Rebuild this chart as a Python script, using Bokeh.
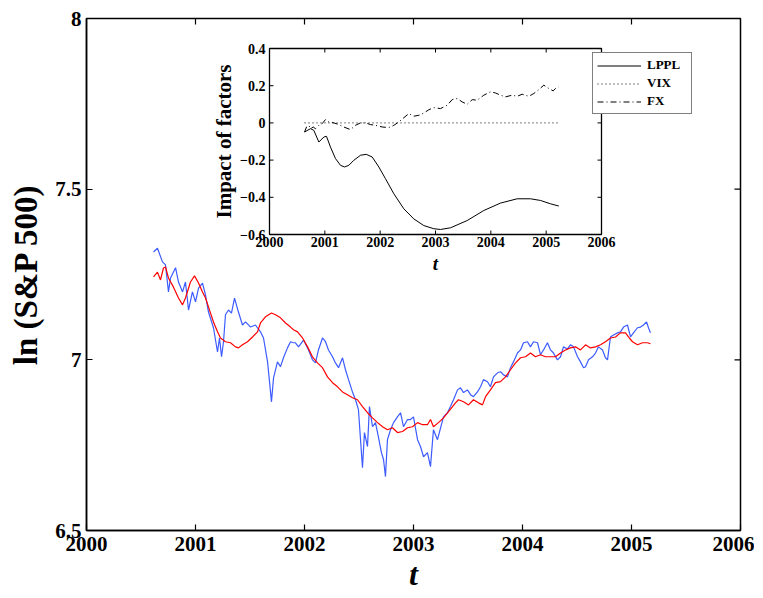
import math
from bokeh.plotting import figure
from bokeh.models import Range1d, FixedTicker, Legend, LegendItem
from bokeh.embed import file_html
from bokeh.resources import INLINE
from bokeh.core.properties import value

# ---------------- data ----------------
sp_year = [2000.615, 2000.651, 2000.697, 2000.725, 2000.752, 2000.771, 2000.817, 2000.844, 2000.881, 2000.908,
           2000.936, 2000.972, 2001.000, 2001.028, 2001.064, 2001.092, 2001.119, 2001.165, 2001.202, 2001.220,
           2001.239, 2001.257, 2001.275, 2001.303, 2001.330, 2001.358, 2001.394, 2001.431, 2001.459, 2001.505,
           2001.550, 2001.596, 2001.624, 2001.661, 2001.679, 2001.697, 2001.716, 2001.752, 2001.780, 2001.807,
           2001.844, 2001.872, 2001.899, 2001.917, 2001.945, 2001.991, 2002.037, 2002.073, 2002.101, 2002.128,
           2002.165, 2002.193, 2002.220, 2002.257, 2002.284, 2002.312, 2002.349, 2002.376, 2002.404, 2002.440,
           2002.468, 2002.495, 2002.514, 2002.532, 2002.550, 2002.578, 2002.596, 2002.624, 2002.651, 2002.670,
           2002.706, 2002.725, 2002.743, 2002.761, 2002.789, 2002.817, 2002.853, 2002.881, 2002.908, 2002.945,
           2002.972, 2003.000, 2003.037, 2003.064, 2003.092, 2003.128, 2003.156, 2003.183, 2003.220, 2003.248,
           2003.275, 2003.312, 2003.339, 2003.367, 2003.404, 2003.431, 2003.459, 2003.495, 2003.523, 2003.550,
           2003.587, 2003.615, 2003.642, 2003.679, 2003.706, 2003.734, 2003.771, 2003.798, 2003.826, 2003.862,
           2003.890, 2003.917, 2003.954, 2003.982, 2004.009, 2004.046, 2004.073, 2004.101, 2004.138, 2004.165,
           2004.193, 2004.229, 2004.257, 2004.284, 2004.321, 2004.349, 2004.376, 2004.413, 2004.440, 2004.468,
           2004.505, 2004.532, 2004.560, 2004.578, 2004.606, 2004.642, 2004.670, 2004.697, 2004.734, 2004.761,
           2004.780, 2004.807, 2004.835, 2004.872, 2004.899, 2004.927, 2004.963, 2004.991, 2005.018, 2005.055,
           2005.083, 2005.110, 2005.138, 2005.156, 2005.174]
sp_ln = [7.316, 7.327, 7.287, 7.278, 7.199, 7.240, 7.270, 7.228, 7.199, 7.228,
         7.146, 7.199, 7.170, 7.210, 7.225, 7.190, 7.140, 7.094, 7.023, 7.064,
         7.009, 7.053, 7.132, 7.146, 7.137, 7.181, 7.140, 7.102, 7.111, 7.096,
         7.102, 7.082, 7.064, 6.994, 6.936, 6.877, 6.947, 6.994, 6.980, 7.006,
         7.035, 7.053, 7.050, 7.050, 7.038, 7.058, 7.029, 7.000, 6.991, 7.029,
         7.064, 7.053, 7.029, 7.009, 6.991, 6.977, 7.006, 6.971, 6.942, 6.906,
         6.883, 6.854, 6.766, 6.684, 6.787, 6.746, 6.863, 6.804, 6.816, 6.787,
         6.728, 6.708, 6.658, 6.766, 6.795, 6.816, 6.833, 6.845, 6.804, 6.825,
         6.825, 6.833, 6.766, 6.746, 6.716, 6.728, 6.687, 6.795, 6.766, 6.800,
         6.833, 6.845, 6.863, 6.883, 6.912, 6.918, 6.904, 6.912, 6.898, 6.892,
         6.906, 6.921, 6.942, 6.936, 6.921, 6.950, 6.962, 6.965, 6.956, 6.950,
         6.977, 6.994, 7.020, 7.029, 7.050, 7.053, 7.038, 7.053, 7.050, 7.015,
         7.029, 7.050, 7.029, 7.020, 7.000, 7.009, 7.038, 7.032, 7.044, 7.038,
         7.009, 6.994, 6.977, 6.980, 7.000, 7.009, 7.020, 7.038, 7.029, 7.006,
         7.000, 7.067, 7.073, 7.079, 7.082, 7.096, 7.102, 7.067, 7.079, 7.094,
         7.096, 7.102, 7.111, 7.094, 7.079]

fit_year = [2000.615, 2000.651, 2000.679, 2000.706, 2000.725, 2000.752, 2000.798, 2000.844, 2000.881, 2000.908,
            2000.954, 2000.991, 2001.028, 2001.064, 2001.092, 2001.138, 2001.165, 2001.202, 2001.229, 2001.275,
            2001.321, 2001.367, 2001.394, 2001.431, 2001.477, 2001.523, 2001.569, 2001.596, 2001.642, 2001.697,
            2001.734, 2001.780, 2001.826, 2001.872, 2001.899, 2001.936, 2001.982, 2002.028, 2002.073, 2002.119,
            2002.165, 2002.211, 2002.257, 2002.303, 2002.349, 2002.394, 2002.440, 2002.486, 2002.532, 2002.578,
            2002.624, 2002.670, 2002.716, 2002.761, 2002.807, 2002.853, 2002.899, 2002.945, 2002.991, 2003.037,
            2003.083, 2003.128, 2003.156, 2003.183, 2003.229, 2003.275, 2003.321, 2003.358, 2003.385, 2003.413,
            2003.459, 2003.505, 2003.550, 2003.596, 2003.633, 2003.661, 2003.706, 2003.752, 2003.798, 2003.844,
            2003.890, 2003.936, 2003.982, 2004.028, 2004.073, 2004.119, 2004.165, 2004.211, 2004.257, 2004.303,
            2004.349, 2004.394, 2004.440, 2004.486, 2004.532, 2004.578, 2004.624, 2004.670, 2004.716, 2004.761,
            2004.807, 2004.853, 2004.899, 2004.945, 2004.972, 2005.009, 2005.055, 2005.101, 2005.147, 2005.174]
fit_ln = [7.243, 7.257, 7.234, 7.269, 7.272, 7.240, 7.213, 7.181, 7.161, 7.181,
          7.228, 7.246, 7.225, 7.199, 7.181, 7.137, 7.111, 7.082, 7.064, 7.053,
          7.050, 7.038, 7.035, 7.044, 7.053, 7.067, 7.082, 7.108, 7.126, 7.137,
          7.132, 7.123, 7.108, 7.096, 7.088, 7.082, 7.064, 7.038, 7.009, 6.991,
          6.977, 6.950, 6.933, 6.921, 6.906, 6.898, 6.889, 6.883, 6.863, 6.845,
          6.830, 6.816, 6.804, 6.795, 6.801, 6.787, 6.790, 6.801, 6.804, 6.816,
          6.810, 6.810, 6.825, 6.804, 6.816, 6.830, 6.848, 6.863, 6.874, 6.883,
          6.877, 6.868, 6.883, 6.874, 6.868, 6.892, 6.912, 6.933, 6.936, 6.950,
          6.971, 6.991, 7.006, 7.009, 7.020, 7.009, 7.015, 7.009, 7.009, 7.009,
          7.020, 7.029, 7.035, 7.038, 7.029, 7.044, 7.035, 7.038, 7.044, 7.053,
          7.064, 7.067, 7.079, 7.079, 7.067, 7.053, 7.044, 7.050, 7.050, 7.047]

lppl_year = [2000.633, 2000.741, 2000.801, 2000.892, 2000.982, 2001.030, 2001.102, 2001.193, 2001.283, 2001.355,
             2001.434, 2001.524, 2001.645, 2001.747, 2001.855, 2001.976, 2002.096, 2002.247, 2002.428, 2002.608,
             2002.789, 2002.970, 2003.090, 2003.271, 2003.572, 2003.873, 2004.175, 2004.476, 2004.717, 2004.898,
             2005.078, 2005.229]
lppl_val = [-0.049, -0.031, -0.040, -0.103, -0.076, -0.072, -0.130, -0.192, -0.228, -0.237,
            -0.228, -0.201, -0.174, -0.169, -0.183, -0.237, -0.300, -0.381, -0.462, -0.516,
            -0.552, -0.569, -0.573, -0.564, -0.525, -0.471, -0.431, -0.408, -0.408, -0.417,
            -0.435, -0.447]

vix_year = [2000.633, 2005.229]
vix_val = [0.0, 0.0]

fx_year = [2000.633, 2000.669, 2000.711, 2000.741, 2000.789, 2000.831, 2000.892, 2000.952, 2001.012, 2001.072,
           2001.163, 2001.253, 2001.343, 2001.464, 2001.554, 2001.645, 2001.735, 2001.825, 2001.916, 2002.036,
           2002.157, 2002.247, 2002.337, 2002.428, 2002.518, 2002.608, 2002.699, 2002.789, 2002.880, 2002.970,
           2003.090, 2003.211, 2003.301, 2003.392, 2003.482, 2003.572, 2003.663, 2003.753, 2003.873, 2003.994,
           2004.084, 2004.175, 2004.265, 2004.386, 2004.476, 2004.566, 2004.687, 2004.777, 2004.867, 2004.958,
           2005.048, 2005.127, 2005.169, 2005.229]
fx_val = [-0.049, -0.022, -0.013, -0.031, -0.022, -0.031, -0.013, -0.004, 0.018, 0.005,
          0.000, -0.009, -0.022, -0.036, -0.013, 0.000, 0.000, -0.009, -0.013, -0.022,
          -0.025, -0.013, 0.005, 0.028, 0.050, 0.036, 0.041, 0.053, 0.071, 0.082,
          0.077, 0.095, 0.125, 0.131, 0.113, 0.100, 0.125, 0.122, 0.149, 0.167,
          0.161, 0.149, 0.140, 0.149, 0.143, 0.154, 0.143, 0.158, 0.179, 0.203,
          0.185, 0.172, 0.185, 0.194]

main_xticks = [2000, 2001, 2002, 2003, 2004, 2005, 2006]
main_yticks = [6.5, 7, 7.5, 8]
main_ytick_labels = ["6.5", "7", "7.5", "8"]
inset_xticks = [2000, 2001, 2002, 2003, 2004, 2005, 2006]
inset_xtick_labels = ["2000", "2001", "2002", "2003", "2004", "2005", "2006"]
inset_yticks = [-0.6, -0.4, -0.2, 0.0, 0.2, 0.4]
inset_ytick_labels = ["\u22120.6", "\u22120.4", "\u22120.2", "0", "0.2", "0.4"]
legend_labels = ["LPPL", "VIX", "FX"]

# ---------------- layout ----------------
FONT = "Liberation Serif"
FW, FH = 654, 512
x0, x1 = main_xticks[0], main_xticks[-1]
y0, y1 = main_yticks[0], main_yticks[-1]
p = figure(frame_width=FW, frame_height=FH,
           x_range=Range1d(x0, x1), y_range=Range1d(y0, y1),
           output_backend="svg", toolbar_location=None,
           min_border_left=86, min_border_right=14, min_border_top=18, min_border_bottom=64,
           background_fill_color="white", border_fill_color="white")
p.grid.visible = False
p.outline_line_color = "black"
p.outline_line_width = 1.5

def style_axis(ax, ticks):
    ax.ticker = FixedTicker(ticks=ticks)
    ax.minor_tick_line_color = None
    ax.major_tick_in = 6
    ax.major_tick_out = 0
    ax.major_tick_line_width = 1.2
    ax.axis_line_width = 1.5
    ax.major_label_text_font = FONT
    ax.major_label_text_font_style = "bold"
    ax.major_label_text_color = "black"
    ax.major_label_text_font_size = "21px"
    ax.axis_label_text_color = "black"

xa = p.xaxis[0]
style_axis(xa, main_xticks)
xa.major_label_overrides = {t: str(t) for t in main_xticks}
xa.major_label_standoff = 6
xa.axis_label = "t"
xa.axis_label_text_font = FONT
xa.axis_label_text_font_style = "bold italic"
xa.axis_label_text_font_size = "32px"
xa.axis_label_standoff = 2

ya = p.yaxis[0]
style_axis(ya, main_yticks)
ya.major_label_overrides = dict(zip(main_yticks, main_ytick_labels))
ya.major_label_standoff = 5
ya.axis_label = "ln (S&P 500)"
ya.axis_label_text_font = FONT
ya.axis_label_text_font_style = "bold"
ya.axis_label_text_font_size = "33px"
ya.axis_label_standoff = 8

# inward ticks on the top and right edges of the box
MTL = 6
mpx = (x1 - x0) / FW
mpy = (y1 - y0) / FH
xt_mid = main_xticks[1:-1]
yt_mid = main_yticks[1:-1]
p.segment(x0=xt_mid, x1=xt_mid, y0=[y1] * len(xt_mid), y1=[y1 - MTL * mpy] * len(xt_mid),
          line_color="black", line_width=1.2)
p.segment(x0=[x1] * len(yt_mid), x1=[x1 - MTL * mpx] * len(yt_mid), y0=yt_mid, y1=yt_mid,
          line_color="black", line_width=1.2)

# main series
p.line(sp_year, sp_ln, line_color="#3d5cff", line_width=1.2)
p.line(fit_year, fit_ln, line_color="#ff0000", line_width=1.2)

# ---------------- inset via extra ranges ----------------
INSET_L, INSET_R = 183, 515   # px from frame left
INSET_B, INSET_T = 296, 482   # px from frame bottom
ix0, ix1 = inset_xticks[0], inset_xticks[-1]
iy0, iy1 = inset_yticks[0], inset_yticks[-1]
sx = (ix1 - ix0) / (INSET_R - INSET_L)
sy = (iy1 - iy0) / (INSET_T - INSET_B)
ixs = ix0 - INSET_L * sx
iys = iy0 - INSET_B * sy
p.extra_x_ranges = {"ix": Range1d(ixs, ixs + FW * sx)}
p.extra_y_ranges = {"iy": Range1d(iys, iys + FH * sy)}
R = dict(x_range_name="ix", y_range_name="iy")

p.quad(left=[ix0], right=[ix1], bottom=[iy0], top=[iy1], fill_color="white",
       line_color="black", line_width=1.3, **R)

TL = 4
xt_in = inset_xticks[1:-1]
yt_in = inset_yticks[1:-1]
p.segment(x0=xt_in, x1=xt_in, y0=[iy0] * len(xt_in), y1=[iy0 + TL * sy] * len(xt_in), line_color="black", **R)
p.segment(x0=xt_in, x1=xt_in, y0=[iy1] * len(xt_in), y1=[iy1 - TL * sy] * len(xt_in), line_color="black", **R)
p.segment(x0=[ix0] * len(yt_in), x1=[ix0 + TL * sx] * len(yt_in), y0=yt_in, y1=yt_in, line_color="black", **R)
p.segment(x0=[ix1] * len(yt_in), x1=[ix1 - TL * sx] * len(yt_in), y0=yt_in, y1=yt_in, line_color="black", **R)

p.text(x=inset_xticks, y=[iy0 - 2 * sy] * len(inset_xticks), text=inset_xtick_labels,
       text_font=value(FONT), text_font_style="bold", text_font_size="14px",
       text_align="center", text_baseline="top", text_color="black", **R)
p.text(x=[ix0 - 4 * sx] * len(inset_yticks), y=inset_yticks, text=inset_ytick_labels,
       text_font=value(FONT), text_font_style="bold", text_font_size="14px",
       text_align="right", text_baseline="middle", text_color="black", **R)
p.text(x=[(ix0 + ix1) / 2], y=[iy0 - 29 * sy], text=["t"],
       text_font=value(FONT), text_font_style="bold italic", text_font_size="19px",
       text_align="center", text_baseline="middle", text_color="black", **R)
p.text(x=[ix0 - 46 * sx], y=[(iy0 + iy1) / 2], text=["Impact of factors"], angle=math.pi / 2,
       text_font=value(FONT), text_font_style="bold", text_font_size="21px",
       text_align="center", text_baseline="middle", text_color="black", **R)

r_lppl = p.line(lppl_year, lppl_val, line_color="black", line_width=1.0, **R)
r_vix = p.line(vix_year, vix_val, line_color="black", line_width=1.0, line_dash="1 3", **R)
r_fx = p.line(fx_year, fx_val, line_color="black", line_width=1.0, line_dash="6 3 1 3", **R)

legend = Legend(items=[LegendItem(label=legend_labels[0], renderers=[r_lppl]),
                       LegendItem(label=legend_labels[1], renderers=[r_vix]),
                       LegendItem(label=legend_labels[2], renderers=[r_fx])],
                location=(506, 416), orientation="vertical",
                label_text_font=FONT, label_text_font_style="bold", label_text_font_size="13px",
                label_text_color="black",
                border_line_color="black", border_line_width=1,
                background_fill_color="white", background_fill_alpha=1.0,
                padding=4, spacing=2, margin=0, glyph_width=44, glyph_height=15,
                label_height=15, label_standoff=6, label_width=40)
p.add_layout(legend)

open("out.html", "w").write(file_html(p, INLINE))
